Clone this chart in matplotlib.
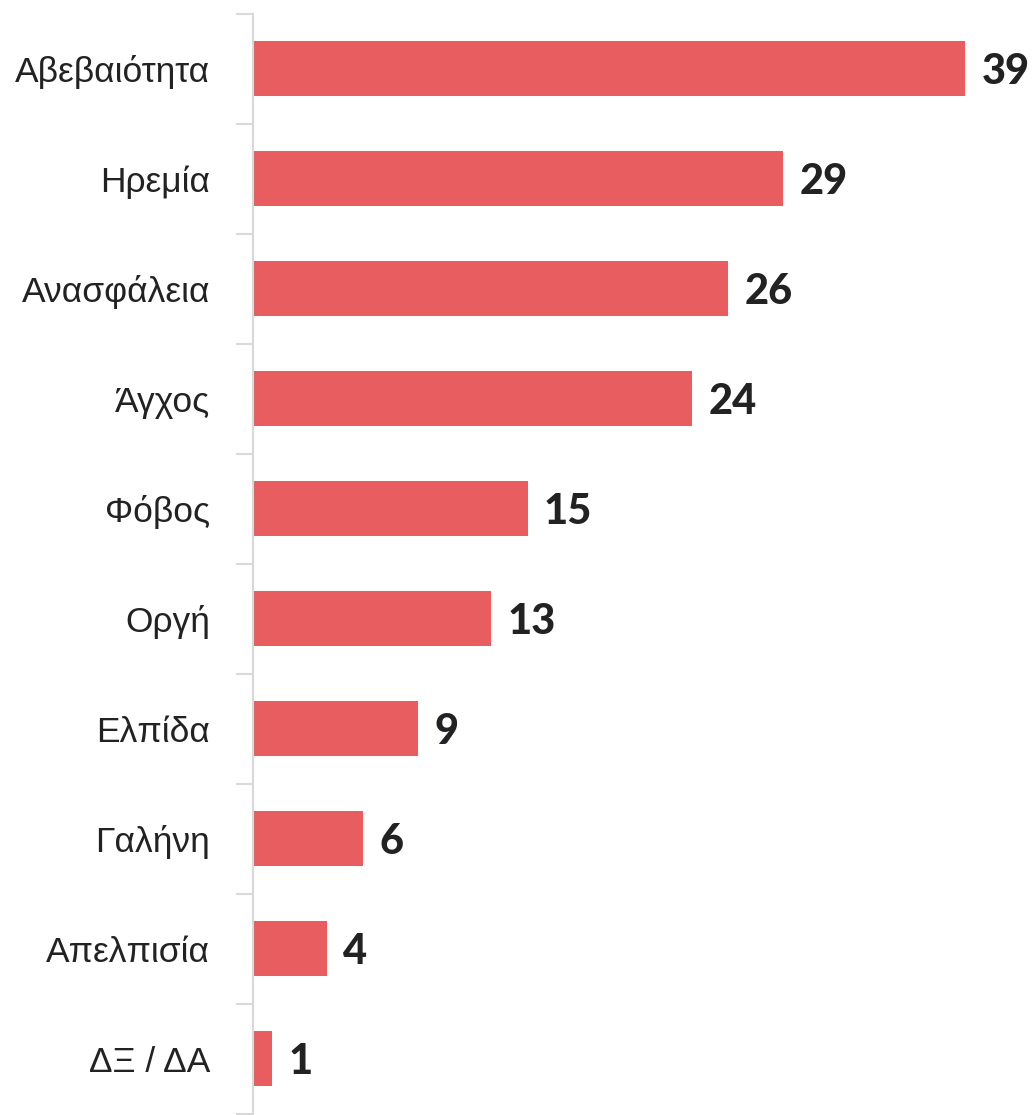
import matplotlib.pyplot as plt
from matplotlib.ticker import FixedLocator

# --- DATA ---
categories = ["Αβεβαιότητα", "Ηρεμία", "Ανασφάλεια", "Άγχος", "Φόβος",
              "Οργή", "Ελπίδα", "Γαλήνη", "Απελπισία", "ΔΞ / ΔΑ"]
values = [39, 29, 26, 24, 15, 13, 9, 6, 4, 1]

BAR_COLOR = "#E85D5F"
AXIS_COLOR = "#D9D9D9"
TEXT_COLOR = "#222222"

fig = plt.figure(figsize=(10.32, 11.15), dpi=100)
ax = fig.add_axes([253 / 1032, 0.0, 1 - 253 / 1032, 1 - 14 / 1115])

pos = list(range(len(categories)))
ax.barh(pos, values, height=0.5, color=BAR_COLOR, left=0.05)
ax.set_ylim(len(categories) - 0.5 + 0.01, -0.5)
ax.set_xlim(0, 42.7)

for p, v in zip(pos, values):
    ax.text(v + 0.05 + 0.9, p, str(v), va="center_baseline", ha="left",
            fontsize=30, fontweight="black", family=["Lato", "DejaVu Sans"],
            color=TEXT_COLOR)

ax.set_yticks(pos)
ax.set_yticklabels(categories, fontsize=25.5, family=["Liberation Sans", "DejaVu Sans"],
                   color=TEXT_COLOR)
ax.tick_params(axis="y", which="major", length=0, pad=31)
ax.yaxis.set_minor_locator(FixedLocator([p - 0.5 for p in range(len(categories) + 1)]))
ax.tick_params(axis="y", which="minor", length=12, width=1.5, color=AXIS_COLOR)

ax.set_xticks([])
for side in ["top", "right", "bottom"]:
    ax.spines[side].set_visible(False)
ax.spines["left"].set_color(AXIS_COLOR)
ax.spines["left"].set_linewidth(1.5)

fig.savefig("out.png", dpi=100, facecolor="white")
